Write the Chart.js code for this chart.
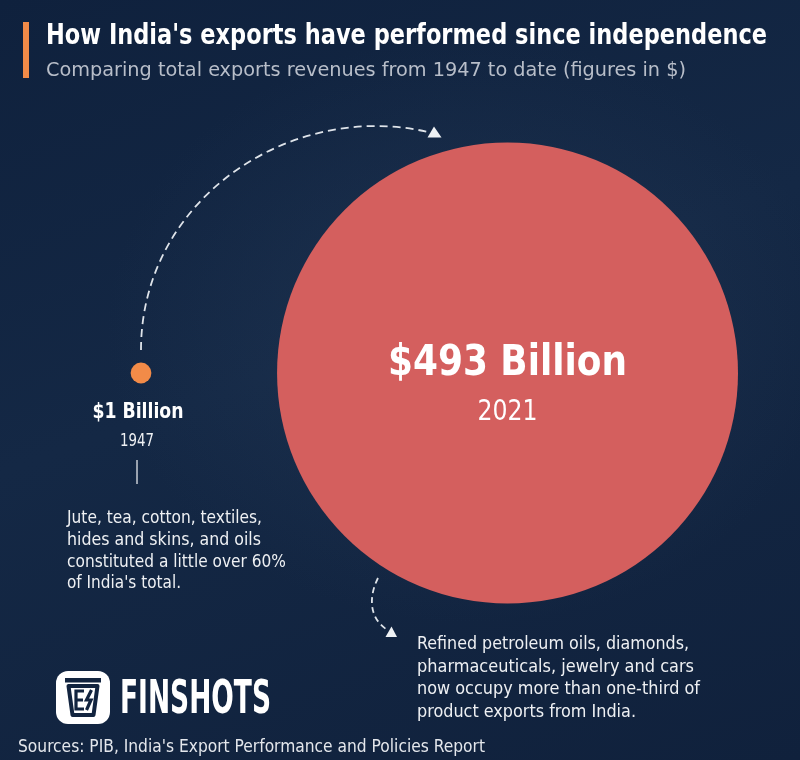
<!DOCTYPE html>
<html>
<head>
<meta charset="utf-8">
<script src="https://cdn.jsdelivr.net/npm/chart.js@4.4.1/dist/chart.umd.min.js"></script>
<style>
  html, body { margin: 0; padding: 0; }
  body { width: 800px; height: 760px; overflow: hidden; }
  #wrap {
    position: relative; width: 800px; height: 760px;
    background:
      radial-gradient(ellipse 520px 420px at 470px 330px, rgba(40,62,92,0.45), rgba(20,36,62,0) 70%),
      linear-gradient(160deg, #0f213d 0%, #142845 45%, #10213c 100%);
  }
  #chart { position: absolute; left: 0; top: 0; }
  #overlay { position: absolute; left: 0; top: 0; pointer-events: none; }
  .f { font-family: 'Liberation Sans Narrow', 'DejaVu Sans Condensed', 'Roboto', sans-serif; }
</style>
</head>
<body>
<div id="wrap">
  <canvas id="chart" width="800" height="760"></canvas>
  <svg id="overlay" width="800" height="760" xmlns="http://www.w3.org/2000/svg"></svg>
</div>
<script>
// ---- data ----
const categories = ['1947', '2021'];
const years = [1947, 2021];
const exportsBillion = [1, 493];
const valueLabels = ['$1 Billion', '$493 Billion'];
const bubbleColors = ['#f28b48', '#d45f5e'];

const titleText = "How India's exports have performed since independence";
const subtitleText = "Comparing total exports revenues from 1947 to date (figures in $)";
const note1947 = ["Jute, tea, cotton, textiles,", "hides and skins, and oils", "constituted a little over 60%", "of India's total."];
const note1947W = [195, 194, 219, 114];
const note2021 = ["Refined petroleum oils, diamonds,", "pharmaceuticals, jewelry and cars", "now occupy more than one-third of", "product exports from India."];
const note2021W = [272, 277, 283, 219];
const sourceText = "Sources: PIB, India's Export Performance and Policies Report";
const brandText = "FINSHOTS";

const FONT = "'Liberation Sans Narrow', 'DejaVu Sans Condensed', Roboto, sans-serif";
const RADIUS_PER_SQRT = 10.38; // area ∝ value

// ---- SVG overlay text ----
const svg = document.getElementById('overlay');
const NS = 'http://www.w3.org/2000/svg';
function addText(str, x, y, size, weight, fill, width) {
  const t = document.createElementNS(NS, 'text');
  t.setAttribute('x', x); t.setAttribute('y', y);
  t.setAttribute('class', 'f');
  t.setAttribute('font-size', size);
  t.setAttribute('font-weight', weight);
  t.setAttribute('fill', fill);
  if (width) { t.setAttribute('textLength', width); t.setAttribute('lengthAdjust', 'spacingAndGlyphs'); }
  t.textContent = str;
  svg.appendChild(t);
  return t;
}
function addEl(tag, attrs) {
  const e = document.createElementNS(NS, tag);
  for (const k in attrs) e.setAttribute(k, attrs[k]);
  svg.appendChild(e);
  return e;
}
// orange accent bar
addEl('rect', {x: 23, y: 22, width: 6, height: 56, fill: '#f28b48'});
addText(titleText, 46, 44, 28, 700, '#ffffff', 721);
addText(subtitleText, 46, 76, 20, 400, '#b8bec9', 640);
note1947.forEach((s, i) => addText(s, 67, 522.7 + i * 21.9, 17.5, 400, '#eef0f3', note1947W[i]));
note2021.forEach((s, i) => addText(s, 417, 649.3 + i * 22.4, 17.5, 400, '#eef0f3', note2021W[i]));
addText(sourceText, 18, 752, 18.5, 400, '#e4e7ec', 467);
// logo
addEl('rect', {x: 56, y: 671, width: 54, height: 53, rx: 12, fill: '#ffffff'});
addEl('rect', {x: 65, y: 678, width: 36, height: 4.5, fill: '#12243f'});
addEl('path', {d: 'M68.5 686 L97.5 686 L93.5 715 L72.5 715 Z', fill: 'none', stroke: '#12243f', 'stroke-width': 4, 'stroke-linejoin': 'round'});
addEl('path', {d: 'M84 691 L76 691 L76 709 L84 709 M76 700 L83 700', fill: 'none', stroke: '#12243f', 'stroke-width': 3.2});
addEl('path', {d: 'M91.5 690 L86.5 700 L91 700 L86.5 710', fill: 'none', stroke: '#12243f', 'stroke-width': 3.2, 'stroke-linejoin': 'miter'});
addText(brandText, 120, 713, 46, 700, '#ffffff', 151);

// ---- chart ----
const fitText = (ctx, str, cx, y, w) => {
  const m = ctx.measureText(str).width;
  ctx.save();
  ctx.translate(cx, y);
  ctx.scale(w / m, 1);
  ctx.fillText(str, 0, 0);
  ctx.restore();
};

const decorPlugin = {
  id: 'decor',
  beforeDatasetsDraw(chart) {
    const ctx = chart.ctx;
    ctx.save();
    ctx.strokeStyle = '#dfe4ea';
    ctx.fillStyle = '#eef1f4';
    ctx.lineWidth = 1.8;
    ctx.setLineDash([8, 5]);
    ctx.beginPath();
    ctx.moveTo(141, 350);
    ctx.bezierCurveTo(141, 200, 290, 100, 428, 132);
    ctx.stroke();
    ctx.setLineDash([6, 4]);
    ctx.beginPath();
    ctx.moveTo(378, 578);
    ctx.bezierCurveTo(368, 598, 370, 618, 386, 629);
    ctx.stroke();
    ctx.setLineDash([]);
    ctx.beginPath();
    ctx.moveTo(434, 126.5); ctx.lineTo(441.5, 137.5); ctx.lineTo(427.5, 137.5); ctx.closePath();
    ctx.fill();
    ctx.beginPath();
    ctx.moveTo(391.5, 626.5); ctx.lineTo(397, 637); ctx.lineTo(385.5, 637); ctx.closePath();
    ctx.fill();
    ctx.restore();
  },
  afterDatasetsDraw(chart) {
    const ctx = chart.ctx;
    const meta = chart.getDatasetMeta(0);
    ctx.save();
    ctx.fillStyle = '#ffffff';
    ctx.textAlign = 'center';
    ctx.textBaseline = 'alphabetic';
    // small bubble: labels below
    const p0 = meta.data[0];
    ctx.font = `700 22px ${FONT}`;
    fitText(ctx, valueLabels[0], p0.x - 3, p0.y + 45, 91);
    ctx.font = `400 18px ${FONT}`;
    ctx.fillStyle = '#eef0f3';
    fitText(ctx, categories[0], p0.x - 4, p0.y + 72.5, 34);
    ctx.strokeStyle = '#c8cdd5';
    ctx.lineWidth = 1.5;
    ctx.beginPath();
    ctx.moveTo(p0.x - 4, p0.y + 87); ctx.lineTo(p0.x - 4, p0.y + 111);
    ctx.stroke();
    // big bubble: labels inside
    const p1 = meta.data[1];
    ctx.fillStyle = '#ffffff';
    ctx.font = `700 42px ${FONT}`;
    fitText(ctx, valueLabels[1], p1.x, p1.y + 2, 239);
    ctx.font = `400 29px ${FONT}`;
    fitText(ctx, categories[1], p1.x, p1.y + 47, 60);
    ctx.restore();
  }
};

new Chart(document.getElementById('chart'), {
  type: 'bubble',
  data: {
    labels: categories,
    datasets: [{
      label: 'Exports ($ billion)',
      data: years.map((yr, i) => ({ x: yr, y: 0, r: RADIUS_PER_SQRT * Math.sqrt(exportsBillion[i]) })),
      backgroundColor: bubbleColors,
      borderWidth: 0,
      hoverBorderWidth: 0,
      clip: false
    }]
  },
  options: {
    responsive: false,
    animation: false,
    events: [],
    devicePixelRatio: 1,
    layout: { autoPadding: false, padding: { left: 0, right: 0, top: 0, bottom: 14 } },
    plugins: { legend: { display: false }, tooltip: { enabled: false } },
    scales: {
      x: { type: 'linear', min: 1918.53, max: 2080.05, display: false },
      y: { type: 'linear', min: -1, max: 1, display: false }
    }
  },
  plugins: [decorPlugin]
});
</script>
</body>
</html>
